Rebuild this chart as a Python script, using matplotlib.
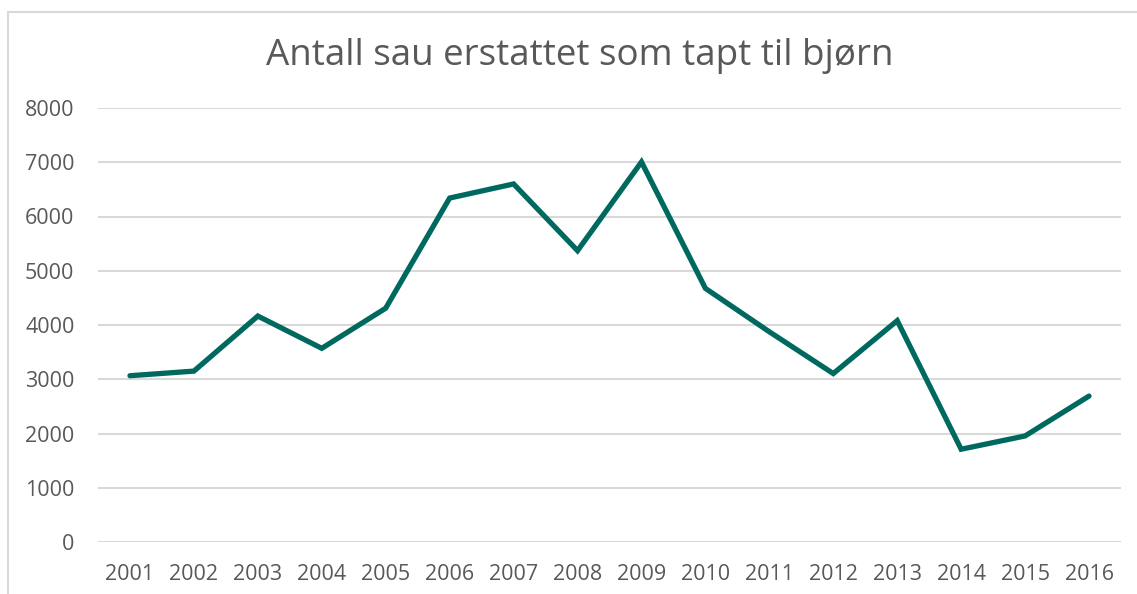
import matplotlib.pyplot as plt
from matplotlib.patches import Rectangle

# data
years = ["2001", "2002", "2003", "2004", "2005", "2006", "2007", "2008",
         "2009", "2010", "2011", "2012", "2013", "2014", "2015", "2016"]
sheep_lost = [3065, 3150, 4165, 3570, 4310, 6340, 6600, 5370,
              7005, 4675, 3875, 3105, 4080, 1710, 1955, 2690]
y_ticks = [0, 1000, 2000, 3000, 4000, 5000, 6000, 7000, 8000]

TEXT = "#595959"
GRID = "#D9D9D9"
LINE = "#00695F"

plt.rcParams["font.family"] = ["Open Sans", "DejaVu Sans"]

W, H = 1137, 594
fig = plt.figure(figsize=(W / 100, H / 100), dpi=100)
ax = fig.add_axes([98 / W, 1 - 542 / H, (1121 - 98) / W, (542 - 108) / H])

x = list(range(len(years)))
ax.plot(x, sheep_lost, color=LINE, lw=3.8, solid_joinstyle="miter",
        solid_capstyle="round", zorder=3)

ax.set_xlim(-0.5, len(years) - 0.5)
ax.set_ylim(0, 8000)
ax.set_yticks(y_ticks)
ax.set_xticks(x)
ax.set_xticklabels(years)
ax.grid(axis="y", color=GRID, lw=1.5)
ax.set_axisbelow(True)
for s in ax.spines.values():
    s.set_visible(False)
ax.tick_params(length=0, labelsize=15.5, colors=TEXT)
ax.tick_params(axis="y", pad=17)
ax.tick_params(axis="x", pad=16)

fig.text(580 / W, 1 - 56 / H, "Antall sau erstattet som tapt til bjørn",
         ha="center", va="center", fontsize=26.5, color=TEXT)

# chart frame, only left and top edges are visible in the crop
fig.patches.append(Rectangle((8 / W, -0.1), 1.2, 1 - 12 / H + 0.1,
                             transform=fig.transFigure, fill=False,
                             edgecolor=GRID, lw=1.5))

fig.savefig("out.png", dpi=100)
